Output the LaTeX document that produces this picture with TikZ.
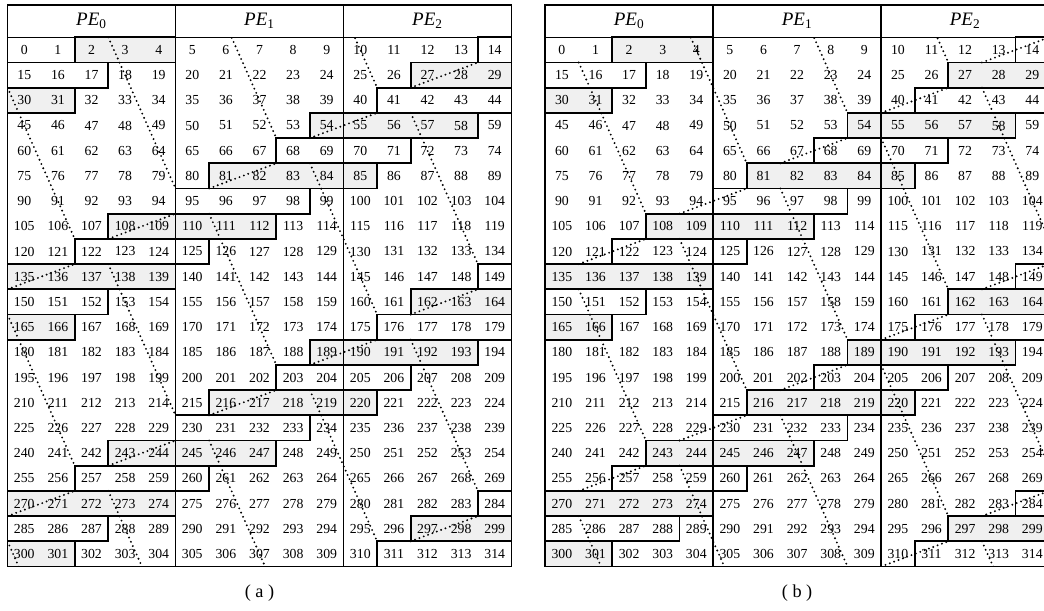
\documentclass[tikz,border=0pt]{standalone}
\usepackage{fontspec}
\setmainfont{Liberation Serif}
\tikzset{
  cellnum/.style={inner sep=0pt, font=\fontsize{9.8}{11}\selectfont},
  pehead/.style={inner sep=0pt, font=\fontsize{13.5}{15}\selectfont},
  capt/.style={inner sep=0pt, font=\fontsize{13}{15}\selectfont},
  shade/.style={fill=black!6},
  runbox/.style={draw=black, line width=1.3pt},
  frame/.style={draw=black, line width=0.9pt},
  trace/.style={line width=1.5pt, line cap=round, dash pattern=on 0pt off 3.3pt}
}
\begin{document}
\begin{tikzpicture}[x=0.84cm, y=-0.63cm]
\useasboundingbox (-0.2232,-1.48) rectangle (30.848,22.726);

% the two tables, (a) at column 0 and (b) at column 16
\foreach \t/\dx/\w in {a/0/3, b/16/4} {
  \begin{scope}[shift={(\dx,0)}]
    % grey runs
    \foreach \ca/\r/\cb in {2/0/5, 12/1/15, 0/2/2, 9/3/14, 6/5/11, 3/7/8, 0/9/5,
        12/10/15, 0/11/2, 9/12/14, 6/14/11, 3/16/8, 0/18/5, 12/19/15, 0/20/2}
      \fill[shade] (\ca,\r) rectangle (\cb,\r+1);
    % cell numbers
    \foreach \r in {0,...,20}
      \foreach \c in {0,...,14} {
        \pgfmathtruncatemacro\n{15*\r+\c}
        \node[cellnum] (\t-\n) at (\c+0.5,\r+0.5) {\n};
      }
    % outlines of the runs
    \foreach \ca/\r/\cb in {2/0/5, 12/1/15, 0/2/2, 9/3/14, 6/5/11, 3/7/8, 0/9/5,
        12/10/15, 0/11/2, 9/12/14, 6/14/11, 3/16/8, 0/18/5, 12/19/15, 0/20/2,
        14/0/15, 0/1/3, 11/2/15, 8/4/12, 5/6/9, 2/8/6, 14/9/15, 0/10/3,
        11/11/15, 8/13/12, 5/15/9, 2/17/6, 14/18/15, 0/19/\w, 11/20/15}
      \draw[runbox] (\ca,\r) rectangle (\cb,\r+1);
    % frame, header and PE columns
    \draw[frame] (0,-1.282) rectangle (15,21);
    \draw[frame] (0,0) -- (15,0);
    \draw[frame] (5,-1.282) -- (5,21);
    \draw[frame] (10,-1.282) -- (10,21);
    \foreach \p in {0,1,2}
      \node[pehead] (\t-pe\p) at (5*\p+2.5,-0.641) {\textit{PE}\textsubscript{\p}};
    \node[capt] (\t-cap) at (7.5,22.05) {( \t\ )};
  \end{scope}
}

% access traces of (a)
\begin{scope}
  \clip (0,0) rectangle (15,21);
  \foreach \c/\r in {9/-4, 6/-2, 3/0, 0/2, 12/3, 9/5, 6/7, 3/9, 0/11, 12/12,
      9/14, 6/16, 3/18, 0/20}
    \draw[trace] (\c,\r) -- ++(2,6);
  \foreach \c/\r in {12/2, 9/4, 6/6, 3/8, 0/10, 12/11, 9/13, 6/15, 3/17, 0/19, 12/20}
    \draw[trace] (\c,\r) -- ++(2,-1);
\end{scope}

% access traces of (b)
\begin{scope}[shift={(16,0)}]
  \clip (0,0) rectangle (15,21);
  \foreach \c/\r in {10/-5, 7/-3, 4/-1, 1/1, 13/2, 10/4, 7/6, 4/8, 1/10, 13/11,
      10/13, 7/15, 4/17, 1/19, 13/20}
    \draw[trace] (\c,\r) -- ++(2,6);
  \foreach \c/\r in {13/1, 10/3, 7/5, 4/7, 1/9, 13/10, 10/12, 7/14, 4/16, 1/18,
      13/19, 10/21}
    \draw[trace] (\c,\r) -- ++(2,-1);
\end{scope}
\end{tikzpicture}
\end{document}
